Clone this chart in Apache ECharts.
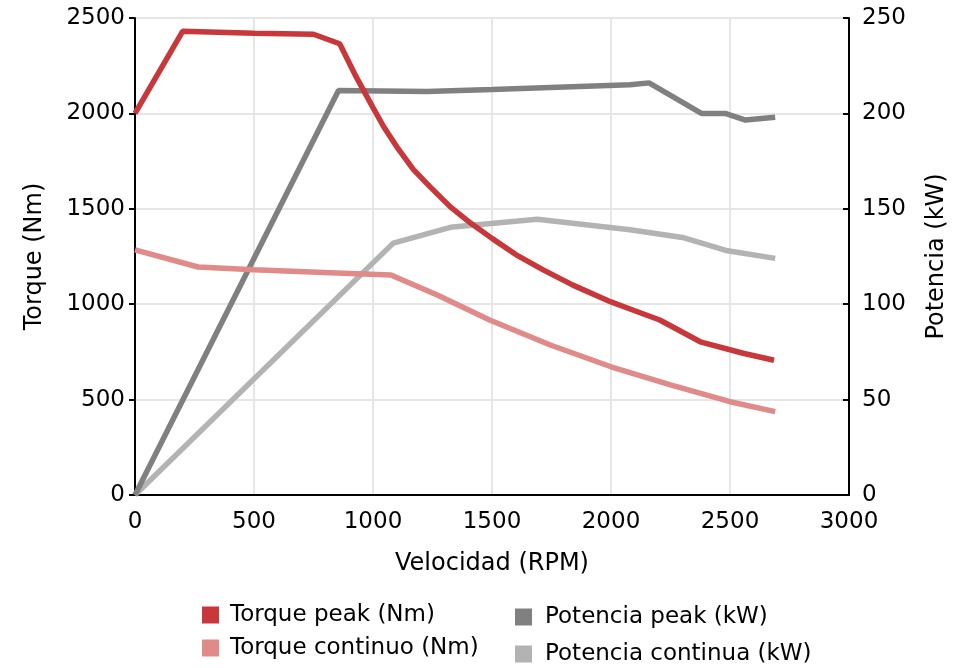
<!DOCTYPE html>
<html>
<head>
<meta charset="utf-8">
<script src="https://cdn.jsdelivr.net/npm/echarts@6/dist/echarts.min.js"></script>
<style>html,body{margin:0;padding:0;background:#fff}#c{width:972px;height:668px}</style>
</head>
<body>
<div id="c"></div>
<script>
// Data (rpm, value)
var torquePeak = [[0,2000],[200,2430],[500,2420],[750,2415],[860,2365],[930,2190],[1000,2030],[1045,1930],[1100,1825],[1170,1705],[1240,1615],[1325,1510],[1410,1425],[1500,1345],[1600,1260],[1715,1180],[1840,1100],[2000,1012],[2080,975],[2205,917],[2375,803],[2555,743],[2685,706]];
var torqueCont = [[0,1285],[265,1195],[500,1180],[820,1165],[1075,1153],[1270,1048],[1490,917],[1745,786],[2000,672],[2250,577],[2500,489],[2690,437]];
var potPeak = [[0,0],[855,212],[1225,211.5],[1500,212.5],[2080,215],[2160,216],[2380,200],[2480,200],[2565,196.5],[2690,198]];
var potCont = [[0,0],[1085,132],[1325,140.3],[1690,144.5],[2080,139],[2300,135],[2490,128],[2690,124]];
var seriesNames = ['Torque peak (Nm)','Torque continuo (Nm)','Potencia peak (kW)','Potencia continua (kW)'];
var xName = 'Velocidad (RPM)', yLeftName = 'Torque (Nm)', yRightName = 'Potencia (kW)';

var FONT = 'DejaVu Sans';
var chart = echarts.init(document.getElementById('c'), null, {renderer:'canvas'});
var tickText = {color:'#000', fontFamily:FONT, fontSize:23, formatter:function(v){return String(v);}};
var nameText = {color:'#000', fontFamily:FONT, fontSize:24};
function leg(name, left, top, pad){
  return {left:left,top:top,orient:'horizontal',itemWidth:17,itemHeight:17,icon:'rect',data:[name],
    textStyle:{color:'#000',fontFamily:FONT,fontSize:23,lineHeight:24,padding:[0,0,0,pad]}};
}
chart.setOption({
  animation:false,
  backgroundColor:'#fff',
  grid:{left:135,right:123,top:18,bottom:173},
  legend:[
    leg(seriesNames[0],197,598,6),
    leg(seriesNames[1],197,631,6),
    leg(seriesNames[2],510,600,8),
    leg(seriesNames[3],510,637,8)
  ],
  xAxis:{type:'value',min:0,max:3000,interval:500,
    name:xName,nameLocation:'middle',nameGap:57,nameTextStyle:nameText,
    axisLine:{lineStyle:{color:'#000',width:2}},axisTick:{show:false},
    axisLabel:Object.assign({margin:16},tickText),
    splitLine:{show:true,lineStyle:{color:'#e6e6e6',width:2}}},
  yAxis:[
    {type:'value',min:0,max:2500,interval:500,position:'left',
     name:yLeftName,nameLocation:'middle',nameGap:88,nameRotate:90,nameTextStyle:nameText,
     axisLine:{show:true,lineStyle:{color:'#000',width:2}},axisTick:{show:true,length:6,lineStyle:{color:'#000',width:2}},
     axisLabel:Object.assign({margin:10},tickText),
     splitLine:{show:true,lineStyle:{color:'#e6e6e6',width:2}}},
    {type:'value',min:0,max:250,interval:50,position:'right',
     name:yRightName,nameLocation:'middle',nameGap:76,nameRotate:90,nameTextStyle:nameText,
     axisLine:{show:true,lineStyle:{color:'#000',width:2}},axisTick:{show:true,length:6,inside:true,lineStyle:{color:'#000',width:2}},
     axisLabel:Object.assign({margin:13},tickText),
     splitLine:{show:false}}
  ],
  series:[
    {name:seriesNames[0],type:'line',yAxisIndex:0,data:torquePeak,showSymbol:false,color:'#c8373a',lineStyle:{width:5.5,color:'#c8373a'},z:4},
    {name:seriesNames[1],type:'line',yAxisIndex:0,data:torqueCont,showSymbol:false,color:'#e08a8a',lineStyle:{width:5.5,color:'#e08a8a'},z:3},
    {name:seriesNames[2],type:'line',yAxisIndex:1,data:potPeak,showSymbol:false,color:'#808080',lineStyle:{width:5.5,color:'#808080'},z:2},
    {name:seriesNames[3],type:'line',yAxisIndex:1,data:potCont,showSymbol:false,color:'#b3b3b3',lineStyle:{width:5.5,color:'#b3b3b3'},z:1}
  ]
});
</script>
</body>
</html>
